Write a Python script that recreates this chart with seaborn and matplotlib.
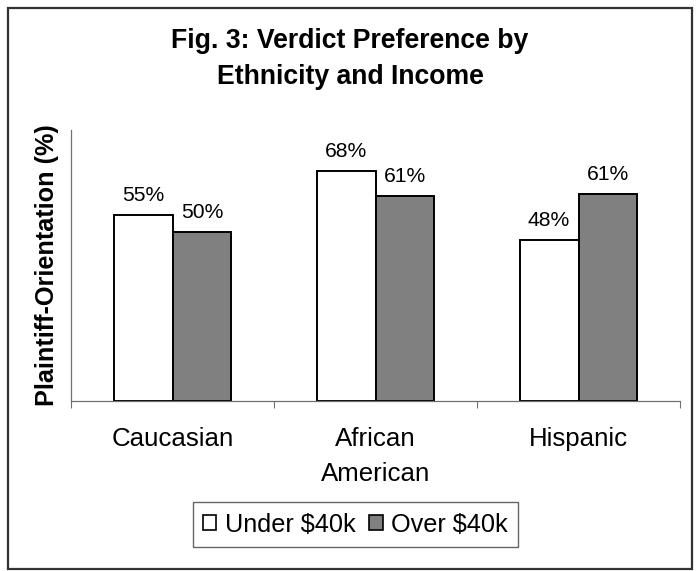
import matplotlib
matplotlib.use("Agg")
import matplotlib.pyplot as plt
from matplotlib.patches import Rectangle
import seaborn as sns
import pandas as pd

# ---- data ----
categories = ["Caucasian", "African\nAmerican", "Hispanic"]
groups = ["Under $40k", "Over $40k"]
under_vals = [55, 68, 47.6]
over_vals = [50, 60.6, 61.2]
under_labels = ["55%", "68%", "48%"]
over_labels = ["50%", "61%", "61%"]
title = "Fig. 3: Verdict Preference by\nEthnicity and Income"
ylabel = "Plaintiff-Orientation (%)"

df = pd.DataFrame({
    "Ethnicity": categories * 2,
    "Value": under_vals + over_vals,
    "Income": [groups[0]] * 3 + [groups[1]] * 3,
})

sns.set_style("white")
plt.rcParams["font.family"] = ["Liberation Sans", "DejaVu Sans"]
plt.rcParams["text.color"] = "black"
plt.rcParams["axes.labelcolor"] = "black"
plt.rcParams["xtick.color"] = "black"
plt.rcParams["xtick.labelcolor"] = "black"

W, H = 696, 571
fig = plt.figure(figsize=(W / 100, H / 100), dpi=100)
ax = fig.add_axes([71 / W, 1 - 401 / H, 609 / W, 271 / H])

sns.barplot(data=df, x="Ethnicity", y="Value", hue="Income", order=categories,
            hue_order=groups, palette=["white", "#808080"], saturation=1,
            width=0.58, edgecolor="black", linewidth=1.4, ax=ax)

ax.set_xlim(-0.5, 2.5)
ax.set_ylim(0, 80)
ax.set_xlabel("")
ax.set_yticks([])

for cont, labs in zip(ax.containers, [under_labels, over_labels]):
    for bar, lab in zip(cont, labs):
        ax.annotate(lab, (bar.get_x() + bar.get_width() / 2, bar.get_height()),
                    xytext=(0, 9.9), textcoords="offset points",
                    ha="center", va="baseline", fontsize=15.2, color="black")

ax.set_xticks([-0.5, 0.5, 1.5, 2.5])
ax.set_xticklabels([])
ax.set_xticks([0, 1, 2], minor=True)
ax.set_xticklabels(categories, minor=True, fontsize=18.6, linespacing=1.55,
                   color="black")
ax.tick_params(axis="x", which="major", length=5, width=0.8, color="#707070",
               direction="out", bottom=True)
ax.tick_params(axis="x", which="minor", length=0, pad=19.0, bottom=True)

for s in ["top", "right"]:
    ax.spines[s].set_visible(False)
for s in ["left", "bottom"]:
    ax.spines[s].set_color("#707070")
    ax.spines[s].set_linewidth(0.9)

ax.set_ylabel(ylabel, fontsize=18.2, fontweight="bold", color="black")
ax.yaxis.set_label_coords(-0.02, 0.5)

handles, labels = ax.get_legend_handles_labels()
if ax.legend_ is not None:
    ax.legend_.remove()
for h in handles:
    h.set_edgecolor("black")
    h.set_linewidth(1.2)
leg = fig.legend(handles, labels, loc="center",
                 bbox_to_anchor=(355.5 / W, 1 - 524.5 / H), ncol=2,
                 frameon=True, fancybox=False, fontsize=18.2,
                 handlelength=0.52, handleheight=0.52, handletextpad=0.35,
                 columnspacing=0.55, borderpad=0.4, labelcolor="black")
leg.get_frame().set_edgecolor("#404040")
leg.get_frame().set_linewidth(1.0)

fig.text(350 / W, 1 - 28 / H, title, ha="center", va="top",
         fontsize=19.2, fontweight="bold", linespacing=1.5, color="black")

fig.add_artist(Rectangle((7.5 / W, 1 - 569 / H), (692 - 7.5) / W, (569 - 7.5) / H,
                         transform=fig.transFigure, fill=False,
                         edgecolor="#333333", linewidth=1.6))

fig.savefig("out.png", dpi=100)
